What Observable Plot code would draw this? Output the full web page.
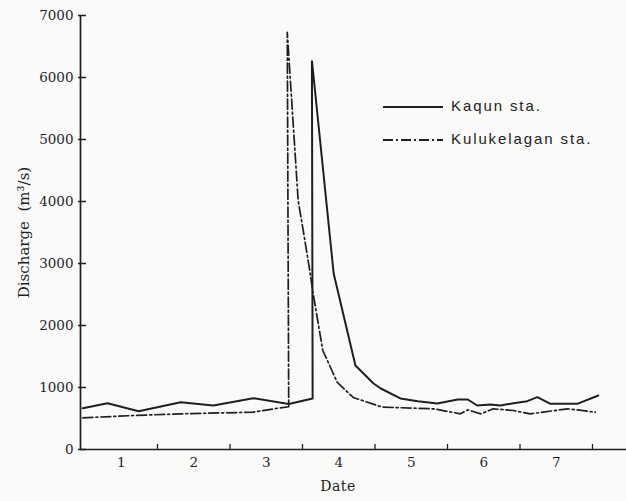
<!DOCTYPE html>
<html>
<head>
<meta charset="utf-8">
<script src="https://cdn.jsdelivr.net/npm/d3@7"></script>
<script src="https://cdn.jsdelivr.net/npm/@observablehq/plot@0.6"></script>
<style>
  html, body { margin: 0; padding: 0; background: #fafbf9; }
  #wrap { position: relative; width: 626px; height: 501px; overflow: hidden; }
  #legend { position: absolute; left: 383px; top: 96px; font-family: "Liberation Sans", sans-serif; font-size: 15px; letter-spacing: 1.9px; color: #222; }
  #legend .row { position: absolute; left: 0; white-space: nowrap; height: 20px; }
  #legend svg { position: absolute; left: 0; top: 0; }
  #legend span { position: absolute; left: 68px; top: 0; line-height: 20px; }
  #xlabel { position: absolute; left: 338px; top: 478px; transform: translateX(-50%); font-family: "DejaVu Serif", serif; font-size: 14px; color: #222; letter-spacing: 0.5px; }
</style>
</head>
<body>
<div id="wrap"></div>
<script>
// Date axis: day d spans [d, d+1]
const dayLabels = ["1", "2", "3", "4", "5", "6", "7"];
const dayBoundaries = [2, 3, 4, 5, 6, 7, 8];
const yTicks = [0, 1000, 2000, 3000, 4000, 5000, 6000, 7000];
const seriesNames = ["Kaqun sta.", "Kulukelagan sta."];

// Kaqun station (solid)
const kaqunDate = [0.97, 1.31, 1.74, 2.32, 2.77, 3.32, 3.81, 4.14, 4.13, 4.43, 4.73, 4.98, 5.08, 5.35, 5.59, 5.86, 6.14, 6.28, 6.41, 6.59, 6.73, 6.91, 7.10, 7.24, 7.42, 7.79, 8.08];
const kaqunQ    = [666, 747, 618, 763, 710, 828, 735, 823, 6274, 2839, 1355, 1065, 984, 823, 780, 742, 806, 806, 710, 726, 710, 747, 780, 844, 737, 737, 871];

// Kulukelagan station (dash-dot)
const kuluDate = [0.97, 1.67, 2.32, 3.32, 3.66, 3.81, 3.79, 3.94, 4.01, 4.10, 4.14, 4.21, 4.28, 4.48, 4.70, 5.03, 5.10, 5.81, 6.18, 6.28, 6.46, 6.63, 6.91, 7.14, 7.66, 8.04];
const kuluQ    = [511, 548, 575, 602, 666, 690, 6730, 4016, 3532, 2887, 2565, 2081, 1597, 1081, 839, 710, 683, 656, 575, 640, 575, 656, 629, 575, 656, 602];

const kaqun = kaqunDate.map((d, i) => ({date: d, q: kaqunQ[i]}));
const kulu = kuluDate.map((d, i) => ({date: d, q: kuluQ[i]}));
const dayCenters = dayLabels.map((_, i) => i + 1.5);

const ink = "#1f1f1f";

const chart = Plot.plot({
  width: 626,
  height: 501,
  marginLeft: 80,
  marginRight: 0,
  marginTop: 15,
  marginBottom: 52,
  style: {background: "#fafbf9", fontFamily: "'DejaVu Serif', serif", fontSize: "13.5px", color: ink},
  x: {domain: [0.938, 8.469]},
  y: {domain: [0, 7000]},
  marks: [
    Plot.ruleX([0.938], {stroke: ink, strokeWidth: 1.7}),
    Plot.ruleY([0], {stroke: ink, strokeWidth: 1.7}),
    Plot.axisY({ticks: yTicks, tickSize: 0, tickPadding: 7, tickFormat: d => String(d), fontSize: 13.5, label: null}),
    Plot.axisY({ticks: [], label: "Discharge  (m³/s)", labelAnchor: "center", labelOffset: 62, labelArrow: "none", fontSize: 15}),
    Plot.axisY({ticks: yTicks, tickSize: 8, text: null, dx: 6, stroke: ink, strokeWidth: 1.5, label: null}),
    Plot.axisX({ticks: dayBoundaries, tickSize: -5, text: null, stroke: ink, strokeWidth: 1.3, label: null}),
    Plot.axisX({ticks: dayCenters, tickSize: 0, tickPadding: 8, tickFormat: (d, i) => dayLabels[i], fontSize: 13.5, label: null}),
    Plot.line(kaqun, {x: "date", y: "q", stroke: ink, strokeWidth: 2, strokeLinejoin: "miter"}),
    Plot.line(kulu, {x: "date", y: "q", stroke: ink, strokeWidth: 1.7, strokeDasharray: "10,3,2,3"})
  ]
});

const wrap = document.getElementById("wrap");
wrap.appendChild(chart);

// legend
const legend = document.createElement("div");
legend.id = "legend";
const dashes = ["", "10,3,2,3"];
seriesNames.forEach((name, i) => {
  const row = document.createElement("div");
  row.className = "row";
  row.style.top = (i * 33) + "px";
  row.innerHTML = `<svg width="62" height="20"><line x1="0" x2="60" y1="11" y2="11" stroke="${ink}" stroke-width="1.9" ${dashes[i] ? `stroke-dasharray="${dashes[i]}"` : ""}/></svg><span>${name}</span>`;
  legend.appendChild(row);
});
wrap.appendChild(legend);

const xl = document.createElement("div");
xl.id = "xlabel";
xl.textContent = "Date";
wrap.appendChild(xl);
</script>
</body>
</html>
